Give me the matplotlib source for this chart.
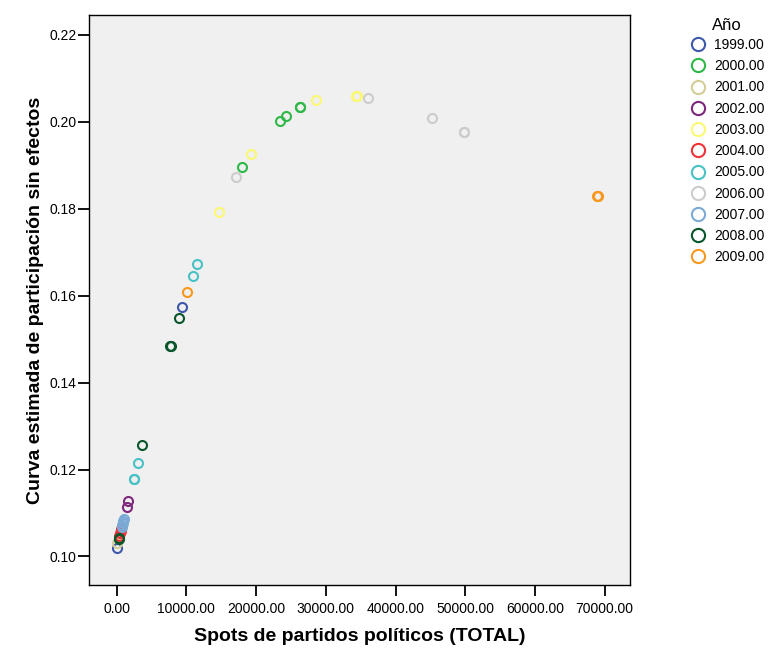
import matplotlib
matplotlib.use("Agg")
import matplotlib.pyplot as plt
from matplotlib.lines import Line2D

plt.rcParams['font.family'] = ['Liberation Sans', 'DejaVu Sans']

# valores: x = spots totales, y = curva estimada
years = ['1999.00', '2000.00', '2001.00', '2002.00', '2003.00', '2004.00',
         '2005.00', '2006.00', '2007.00', '2008.00', '2009.00']
colors = ['#3E58AC', '#2EB848', '#D3CE97', '#7C287D', '#FBF873', '#EF3338',
          '#48C2C5', '#CCCCCC', '#7AAAD5', '#0A562C', '#F8981D']

x_1999 = [10, 9430]
y_1999 = [0.1019, 0.15734]
x_2000 = [17980, 23430, 24350, 26300, 26360]
y_2000 = [0.18956, 0.20021, 0.20143, 0.20336, 0.20342]
x_2001 = [90]
y_2001 = [0.10304]
x_2002 = [1430, 1660]
y_2002 = [0.11146, 0.11277]
x_2003 = [14630, 19230, 28650, 34350, 34430]
y_2003 = [0.17920, 0.19269, 0.20497, 0.20589, 0.20590]
x_2004 = [400, 470, 550, 620]
y_2004 = [0.10472, 0.10541, 0.10587, 0.10633]
x_2005 = [2480, 2520, 3060, 10950, 11580]
y_2005 = [0.11790, 0.11775, 0.12145, 0.16461, 0.16731]
x_2006 = [17170, 36060, 45240, 49830, 49890]
y_2006 = [0.18726, 0.20550, 0.20097, 0.19768, 0.19765]
x_2007 = [690, 760, 860, 950, 1050]
y_2007 = [0.10679, 0.10725, 0.10771, 0.10817, 0.10863]
x_2008 = [300, 340, 3690, 7700, 7740, 8940]
y_2008 = [0.10410, 0.10422, 0.12559, 0.14844, 0.14850, 0.15481]
x_2009 = [10140, 68960, 69000]
y_2009 = [0.16079, 0.18288, 0.18290]

xs = [x_1999, x_2000, x_2001, x_2002, x_2003, x_2004,
      x_2005, x_2006, x_2007, x_2008, x_2009]
ys = [y_1999, y_2000, y_2001, y_2002, y_2003, y_2004,
      y_2005, y_2006, y_2007, y_2008, y_2009]

fig = plt.figure(figsize=(7.69, 6.49), dpi=100)
ax = fig.add_axes([89 / 769, 1 - 585 / 649, 541 / 769, 570 / 649])
ax.set_facecolor('#F0F0F0')

for xv, yv, c in zip(xs, ys, colors):
    ax.plot(xv, yv, 'o', ms=6.5, mfc='none', mec=c, mew=1.5, ls='none')

ax.set_xlim(-3974, 73634)
ax.set_ylim(0.09344, 0.2246)
ax.set_xticks([0, 10000, 20000, 30000, 40000, 50000, 60000, 70000])
ax.set_xticklabels(['%.2f' % v for v in ax.get_xticks()])
ax.set_yticks([0.10, 0.12, 0.14, 0.16, 0.18, 0.20, 0.22])
ax.set_yticklabels(['%.2f' % v for v in ax.get_yticks()])
ax.tick_params(direction='out', length=8, width=1.3, labelsize=10, colors='black')
ax.tick_params(axis='y', pad=1)
ax.tick_params(axis='x', pad=4)
for sp in ax.spines.values():
    sp.set_linewidth(1.0)

ax.set_xlabel('Spots de partidos políticos (TOTAL)', fontsize=14, fontweight='bold', labelpad=9)
ax.set_ylabel('Curva estimada de participación sin efectos', fontsize=14, fontweight='bold', labelpad=4)

# leyenda: titulo aparte para controlar la posicion
fig.text(727 / 769, 1 - 26 / 649, 'Año', ha='center', va='center', fontsize=12)
handles = [Line2D([], [], marker='o', ls='none', ms=9.5, mfc='none', mec=c, mew=1.5)
           for c in colors]
leg = fig.legend(handles, years, loc='upper left', bbox_to_anchor=(0.899, 0.9414),
                 frameon=False, fontsize=10,
                 handlelength=1.0, handletextpad=0.62, labelspacing=0.52,
                 borderpad=0, borderaxespad=0)

fig.savefig('out.png', dpi=100)
